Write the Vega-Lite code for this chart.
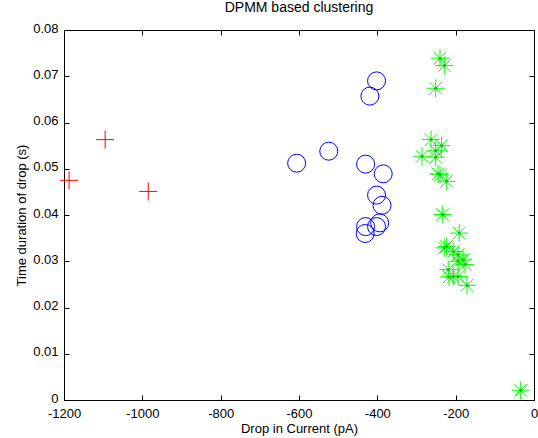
{
  "$schema": "https://vega.github.io/schema/vega-lite/v6.json",
  "autosize": {"type": "none"},
  "padding": {"left": 64, "top": 30, "right": 4, "bottom": 38},
  "width": 470,
  "height": 370,
  "background": "white",
  "title": {"text": "DPMM based clustering", "fontSize": 14, "fontWeight": "normal", "font": "Liberation Sans", "color": "black", "offset": 7},
  "config": {
    "view": {"stroke": "black", "strokeWidth": 1},
    "axis": {"grid": false, "domainColor": "black", "tickColor": "black", "labelColor": "black", "titleColor": "black", "labelFont": "Liberation Sans", "titleFont": "Liberation Sans", "labelFontSize": 13, "titleFontSize": 13, "titleFontWeight": "normal", "tickSize": -5, "domain": true, "labelFlush": false, "labelOverlap": false}
  },
  "data": {"values": [
    {"x": -1187, "y": 0.0475, "cluster": "A"},
    {"x": -1095, "y": 0.0563, "cluster": "A"},
    {"x": -985, "y": 0.0451, "cluster": "A"},
    {"x": -402, "y": 0.0690, "cluster": "B"},
    {"x": -419, "y": 0.0657, "cluster": "B"},
    {"x": -524, "y": 0.0538, "cluster": "B"},
    {"x": -606, "y": 0.0512, "cluster": "B"},
    {"x": -430, "y": 0.0510, "cluster": "B"},
    {"x": -385, "y": 0.0489, "cluster": "B"},
    {"x": -402, "y": 0.0443, "cluster": "B"},
    {"x": -388, "y": 0.0421, "cluster": "B"},
    {"x": -394, "y": 0.0383, "cluster": "B"},
    {"x": -402, "y": 0.0375, "cluster": "B"},
    {"x": -430, "y": 0.0375, "cluster": "B"},
    {"x": -431, "y": 0.0360, "cluster": "B"},
    {"x": -240, "y": 0.0739, "cluster": "C"},
    {"x": -229, "y": 0.0723, "cluster": "C"},
    {"x": -251, "y": 0.0674, "cluster": "C"},
    {"x": -263, "y": 0.0563, "cluster": "C"},
    {"x": -236, "y": 0.0550, "cluster": "C"},
    {"x": -251, "y": 0.0539, "cluster": "C"},
    {"x": -286, "y": 0.0527, "cluster": "C"},
    {"x": -251, "y": 0.0525, "cluster": "C"},
    {"x": -245, "y": 0.0489, "cluster": "C"},
    {"x": -240, "y": 0.0487, "cluster": "C"},
    {"x": -223, "y": 0.0473, "cluster": "C"},
    {"x": -233, "y": 0.0401, "cluster": "C"},
    {"x": -191, "y": 0.0361, "cluster": "C"},
    {"x": -229, "y": 0.0329, "cluster": "C"},
    {"x": -223, "y": 0.0332, "cluster": "C"},
    {"x": -206, "y": 0.0321, "cluster": "C"},
    {"x": -194, "y": 0.0314, "cluster": "C"},
    {"x": -181, "y": 0.0303, "cluster": "C"},
    {"x": -194, "y": 0.0300, "cluster": "C"},
    {"x": -176, "y": 0.0293, "cluster": "C"},
    {"x": -219, "y": 0.0282, "cluster": "C"},
    {"x": -206, "y": 0.0267, "cluster": "C"},
    {"x": -217, "y": 0.0266, "cluster": "C"},
    {"x": -194, "y": 0.0267, "cluster": "C"},
    {"x": -171, "y": 0.0248, "cluster": "C"},
    {"x": -34, "y": 0.0021, "cluster": "C"}
  ]},
  "layer": [
    {
      "encoding": {
        "x": {"field": "x", "type": "quantitative", "scale": {"domain": [-1200, 0], "nice": false, "zero": false}, "axis": {"orient": "bottom", "title": "Drop in Current (pA)", "values": [-1200, -1000, -800, -600, -400, -200, 0], "labelExpr": "'' + datum.value", "labelPadding": 12, "titlePadding": 2}},
        "y": {"field": "y", "type": "quantitative", "scale": {"domain": [0, 0.08], "nice": false}, "axis": {"orient": "left", "title": "Time duration of drop (s)", "values": [0, 0.01, 0.02, 0.03, 0.04, 0.05, 0.06, 0.07, 0.08], "format": ".2~f", "labelPadding": 11, "labelOffset": -2, "titlePadding": 4}}
      },
      "layer": [
        {
          "transform": [{"filter": "datum.cluster == 'A'"}],
          "mark": {"type": "point", "shape": "M-1,0L1,0M0,-1L0,1", "size": 324, "stroke": "#ff0000", "strokeWidth": 1, "filled": false, "opacity": 1}
        },
        {
          "transform": [{"filter": "datum.cluster == 'B'"}],
          "mark": {"type": "point", "shape": "circle", "size": 324, "stroke": "#0000ff", "strokeWidth": 1, "filled": false, "opacity": 1}
        },
        {
          "transform": [{"filter": "datum.cluster == 'C'"}],
          "mark": {"type": "point", "shape": "M-1,0L1,0M0,-1L0,1M-0.7,-0.7L0.7,0.7M-0.7,0.7L0.7,-0.7", "size": 324, "stroke": "#00ff00", "strokeWidth": 1, "filled": false, "opacity": 1}
        },
        {
          "transform": [{"filter": "datum.cluster == 'C'"}],
          "mark": {"type": "point", "shape": "circle", "size": 9, "fill": "#00cc00", "filled": true, "opacity": 1, "strokeWidth": 0}
        }
      ]
    },
    {
      "mark": {"type": "point", "opacity": 0, "size": 0},
      "encoding": {
        "x": {"field": "x", "type": "quantitative", "scale": {"domain": [-1200, 0], "nice": false, "zero": false}, "axis": {"orient": "top", "labels": false, "title": null, "values": [-1200, -1000, -800, -600, -400, -200, 0]}},
        "y": {"field": "y", "type": "quantitative", "scale": {"domain": [0, 0.08], "nice": false}, "axis": {"orient": "right", "labels": false, "title": null, "values": [0, 0.01, 0.02, 0.03, 0.04, 0.05, 0.06, 0.07, 0.08]}}
      }
    }
  ],
  "resolve": {"axis": {"x": "independent", "y": "independent"}}
}
